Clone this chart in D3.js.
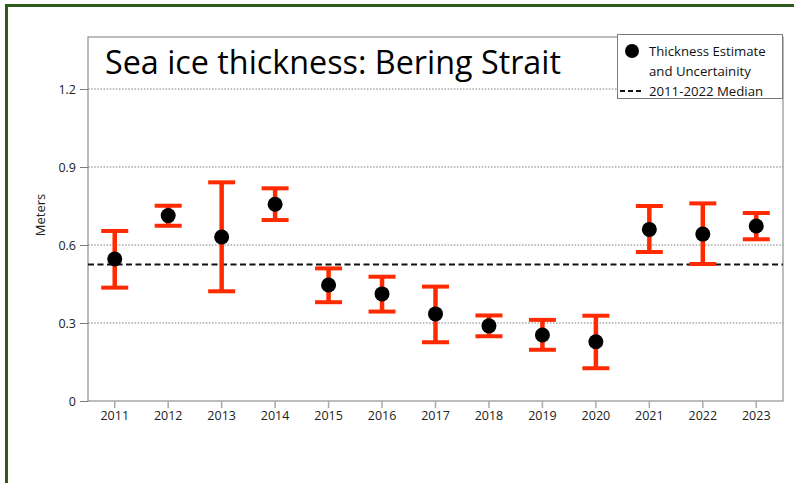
<!DOCTYPE html>
<html>
<head>
<meta charset="utf-8">
<script src="https://cdn.jsdelivr.net/npm/d3@7"></script>
<style>
  body { margin: 0; background: #fff; }
  svg { display: block; font-family: "Open Sans", sans-serif; }
</style>
</head>
<body>
<svg id="chart" width="794" height="483"></svg>
<script>
// data
var years = ["2011","2012","2013","2014","2015","2016","2017","2018","2019","2020","2021","2022","2023"];
var thickness = [0.546, 0.713, 0.631, 0.757, 0.446, 0.412, 0.335, 0.289, 0.254, 0.228, 0.660, 0.642, 0.673];
var upper = [0.654, 0.751, 0.841, 0.818, 0.510, 0.478, 0.440, 0.329, 0.312, 0.328, 0.750, 0.760, 0.723];
var lower = [0.436, 0.674, 0.422, 0.696, 0.380, 0.344, 0.226, 0.249, 0.197, 0.126, 0.573, 0.527, 0.622];
var median = 0.525;
var yTicks = [0, 0.3, 0.6, 0.9, 1.2];
var yTickLabels = ["0", "0.3", "0.6", "0.9", "1.2"];

//layout
var plot_left = 88, plot_top = 37, plot_right = 783, plot_bottom = 401;
var axis_gray = "#7a7a7a";
var bar_red = "#ff2a00";
var cap_width = 27;

var svg = d3.select("#chart");

//green frame (only top + left show)
svg.append("rect").attr("x", 6.5).attr("y", 5.5).attr("width", 830).attr("height", 520)
    .style("fill", "none").style("stroke", "#2f5a1e").style("stroke-width", 3);

var x = d3.scaleBand().domain(years).range([plot_left, plot_right]);
var y = d3.scaleLinear().domain([0, 1.4]).range([plot_bottom, plot_top]);

//grid
svg.append("g").selectAll("line").data(yTicks.filter(d => d > 0)).enter().append("line")
    .attr("x1", plot_left).attr("x2", plot_right)
    .attr("y1", d => y(d)).attr("y2", d => y(d))
    .style("stroke", "#a8a8a8").style("stroke-width", 1.5).style("stroke-dasharray", "1.5,1.6");

//frame
svg.append("rect").attr("x", plot_left).attr("y", plot_top)
    .attr("width", plot_right - plot_left).attr("height", plot_bottom - plot_top)
    .style("fill", "none").style("stroke", axis_gray).style("stroke-width", 1);

//y axis
var yAxis = d3.axisLeft(y).tickValues(yTicks).tickSize(8).tickPadding(4)
    .tickFormat((d, i) => yTickLabels[i]);
var yg = svg.append("g").attr("transform", `translate(${plot_left},0)`).call(yAxis);
yg.select(".domain").remove();
yg.selectAll(".tick line").style("stroke", axis_gray);
yg.selectAll("text").style("font-size", "12.5px").style("fill", "#222").style("font-family", "Open Sans");

//x axis
var xAxis = d3.axisBottom(x).tickSize(7).tickPadding(3);
var xg = svg.append("g").attr("transform", `translate(0,${plot_bottom})`).call(xAxis);
xg.select(".domain").remove();
xg.selectAll(".tick line").style("stroke", "#aaaaaa").style("stroke-width", 1.5);
xg.selectAll("text").style("font-size", "12.5px").style("fill", "#222").style("font-family", "Open Sans");

//y title
svg.append("text").attr("transform", "translate(45,215) rotate(-90)")
    .attr("text-anchor", "middle").style("font-size", "13px").style("fill", "#222")
    .text("Meters");

//median
svg.append("line").attr("x1", plot_left).attr("x2", plot_right)
    .attr("y1", y(median)).attr("y2", y(median))
    .style("stroke", "#111").style("stroke-width", 2).style("stroke-dasharray", "6,3.5");

//error bars
var pts = years.map((yr, i) => ({ yr: yr, v: thickness[i], hi: upper[i], lo: lower[i] }));
var cx = d => x(d.yr) + x.bandwidth() / 2;

var eg = svg.append("g").selectAll("g").data(pts).enter().append("g");
eg.append("line").attr("x1", cx).attr("x2", cx).attr("y1", d => y(d.hi)).attr("y2", d => y(d.lo))
    .style("stroke", bar_red).style("stroke-width", 4.5);
eg.append("line").attr("x1", d => cx(d) - cap_width / 2).attr("x2", d => cx(d) + cap_width / 2)
    .attr("y1", d => y(d.hi)).attr("y2", d => y(d.hi))
    .style("stroke", bar_red).style("stroke-width", 4);
eg.append("line").attr("x1", d => cx(d) - cap_width / 2).attr("x2", d => cx(d) + cap_width / 2)
    .attr("y1", d => y(d.lo)).attr("y2", d => y(d.lo))
    .style("stroke", bar_red).style("stroke-width", 4);
eg.append("circle").attr("cx", cx).attr("cy", d => y(d.v)).attr("r", 7.5).style("fill", "#000");

//title
svg.append("text").attr("x", 105).attr("y", 74)
    .style("font-size", "32.3px").style("fill", "#000")
    .text("Sea ice thickness: Bering Strait");

//legend
var lg = svg.append("g");
lg.append("rect").attr("x", 617.5).attr("y", 34.5).attr("width", 165).attr("height", 64)
    .style("fill", "#fff").style("stroke", axis_gray);
lg.append("circle").attr("cx", 632).attr("cy", 51).attr("r", 7).style("fill", "#000");
lg.append("line").attr("x1", 620).attr("x2", 642).attr("y1", 91).attr("y2", 91)
    .style("stroke", "#111").style("stroke-width", 2).style("stroke-dasharray", "5,3");
var legendLines = [["Thickness Estimate", 56], ["and Uncertainity", 76], ["2011-2022 Median", 96]];
lg.selectAll("text.leg").data(legendLines).enter().append("text").classed("leg", true)
    .attr("x", 649).attr("y", d => d[1]).style("font-size", "13.2px").style("fill", "#111")
    .text(d => d[0]);
</script>
</body>
</html>
